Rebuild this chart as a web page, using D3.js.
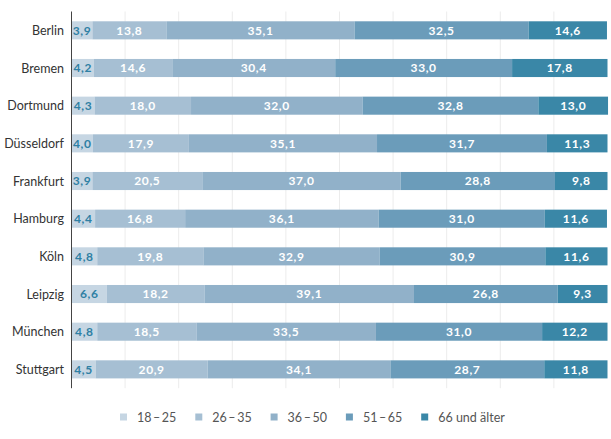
<!DOCTYPE html>
<html>
<head>
<meta charset="utf-8">
<script src="https://cdn.jsdelivr.net/npm/d3@7"></script>
<style>
  body { margin: 0; background: #fff; }
  svg { display: block; font-family: Lato, "Open Sans", sans-serif; }
  .city { font-size: 12.5px; fill: #333; }
  .val { font-size: 12px; font-weight: 700; letter-spacing: 0.6px; }
  .legend text { font-size: 12.5px; fill: #555; }
</style>
</head>
<body>
<div id="chart"></div>
<script>
// Data
const cities = ["Berlin", "Bremen", "Dortmund", "Düsseldorf", "Frankfurt", "Hamburg", "Köln", "Leipzig", "München", "Stuttgart"];
const groups = ["18\u2009–\u200925", "26\u2009–\u200935", "36\u2009–\u200950", "51\u2009–\u200965", "66 und älter"];
const colours = ["#c6d6e3", "#a6bfd3", "#91b1c9", "#6b9cba", "#3a87a7"];

const age18_25 = [3.9, 4.2, 4.3, 4.0, 3.9, 4.4, 4.8, 6.6, 4.8, 4.5];
const age26_35 = [13.8, 14.6, 18.0, 17.9, 20.5, 16.8, 19.8, 18.2, 18.5, 20.9];
const age36_50 = [35.1, 30.4, 32.0, 35.1, 37.0, 36.1, 32.9, 39.1, 33.5, 34.1];
const age51_65 = [32.5, 33.0, 32.8, 31.7, 28.8, 31.0, 30.9, 26.8, 31.0, 28.7];
const age66plus = [14.6, 17.8, 13.0, 11.3, 9.8, 11.6, 11.6, 9.3, 12.2, 11.8];

const series = [age18_25, age26_35, age36_50, age51_65, age66plus];
const gridTicks = [10, 20, 30, 40, 50, 60, 70, 80, 90];

const fullW = 611, fullH = 439;

const svg = d3.select("#chart").append("svg")
  .attr("width", fullW).attr("height", fullH);

const x = d3.scaleLinear().domain([0, 100]).range([71.5, 607.5]);
const y = d3.scaleBand().domain(cities).range([11.5, 388.2])
  .paddingInner(0.52).paddingOuter(0.26);

// Grid
svg.append("g").selectAll("line").data(gridTicks).join("line")
  .attr("x1", d => x(d)).attr("x2", d => x(d))
  .attr("y1", 11.5).attr("y2", 388.2)
  .attr("stroke", "#ececec").attr("stroke-width", 1);

// Stack data
const rows = cities.map((c, i) => {
  const r = { city: c };
  groups.forEach((g, j) => r[g] = series[j][i]);
  return r;
});
const stacked = d3.stack().keys(groups)(rows);

const layers = svg.append("g").selectAll("g").data(stacked).join("g")
  .attr("fill", (d, i) => colours[i]);

layers.selectAll("rect").data(d => d).join("rect")
  .attr("x", d => x(d[0]))
  .attr("width", d => x(d[1]) - x(d[0]))
  .attr("y", d => y(d.data.city))
  .attr("height", y.bandwidth());

const fmt = v => v.toFixed(1).replace(".", ",");

stacked.forEach((layer, i) => {
  svg.append("g").selectAll("text").data(layer).join("text")
    .attr("class", "val")
    .attr("x", d => (x(d[0]) + x(d[1])) / 2)
    .attr("y", d => y(d.data.city) + y.bandwidth() / 2)
    .attr("dy", "0.36em")
    .attr("text-anchor", "middle")
    .attr("fill", i === 0 ? "#2f80a4" : "#fff")
    .text(d => fmt(d[1] - d[0]));
});

// Axis line
svg.append("line")
  .attr("x1", 71.5).attr("x2", 71.5)
  .attr("y1", 11.5).attr("y2", 388.2)
  .attr("stroke", "#444").attr("stroke-width", 1);

// City labels
svg.append("g").selectAll("text").data(cities).join("text")
  .attr("class", "city")
  .attr("x", 64)
  .attr("y", d => y(d) + y.bandwidth() / 2)
  .attr("dy", "0.36em")
  .attr("text-anchor", "end")
  .text(d => d);

// Legend
const legend = svg.append("g").attr("class", "legend")
  .selectAll("g").data(groups).join("g")
  .attr("transform", (d, i) => `translate(${120 + i * 75.3},417)`);
legend.append("rect")
  .attr("x", 0).attr("y", -3.5).attr("width", 7).attr("height", 7)
  .attr("fill", (d, i) => colours[i]);
legend.append("text")
  .attr("x", 17).attr("dy", "0.36em")
  .text(d => d);
</script>
</body>
</html>
